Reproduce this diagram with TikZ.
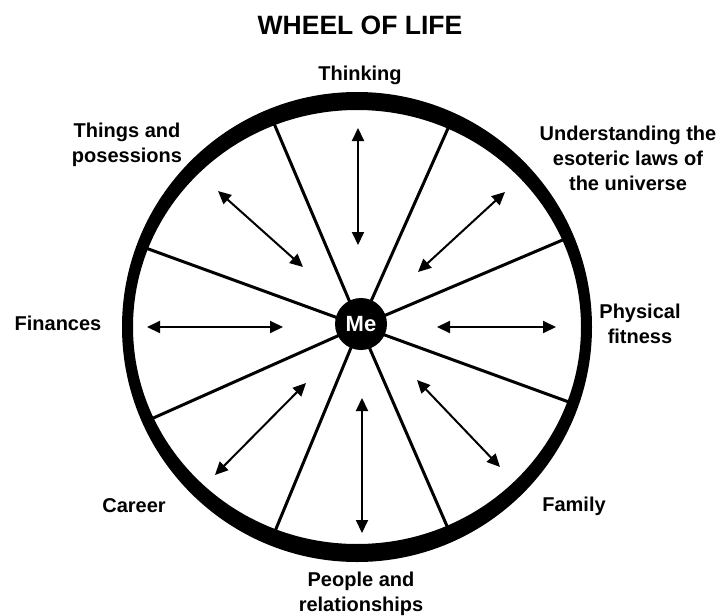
\documentclass[tikz,border=0pt]{standalone}
\usepackage{fontspec}
\setmainfont{Liberation Sans}
\usetikzlibrary{arrows.meta,calc}
\begin{document}
\begin{tikzpicture}[x=1pt,y=1pt,
  lbl/.style={font=\bfseries\fontsize{20}{25}\selectfont, align=center, inner sep=0pt},
  titlestyle/.style={font=\bfseries\fontsize{26.5}{30}\selectfont, inner sep=0pt},
  spoke/.style={line width=3pt},
  dbl/.style={line width=2pt, {Triangle[length=13pt,width=12pt]}-{Triangle[length=13pt,width=12pt]}},
  hub/.style={circle, fill=black, minimum size=52pt, inner sep=0pt, text=white, font=\bfseries\fontsize{22}{22}\selectfont}]
\useasboundingbox (0,0) rectangle (721,-616);
\coordinate (c) at (360,-326);
\coordinate (rc) at (357,-327);
% spokes
\foreach \a [count=\i] in {23,66,113,160,204,247.5,293.5,340}{
  \coordinate (s\i) at ($(c)+(\a:228)$);
}
\foreach \i in {1,...,8}{\draw[spoke] (c) -- (s\i);}
% rim
\fill[even odd rule] (rc) circle[radius=235] (rc) ellipse[x radius=224, y radius=217];
% hub
\node[hub] (me) at (361,-324) {Me};
% arrows
\coordinate (t1) at (358,-128); \coordinate (t2) at (358,-245);
\coordinate (b1) at (362,-398); \coordinate (b2) at (362,-533);
\coordinate (l1) at (147,-327); \coordinate (l2) at (283,-327);
\coordinate (r1) at (437,-327); \coordinate (r2) at (556,-327);
\coordinate (ul1) at (218,-191); \coordinate (ul2) at (303,-267);
\coordinate (ur1) at (505,-192); \coordinate (ur2) at (418,-272);
\coordinate (ll1) at (306,-383); \coordinate (ll2) at (215,-475);
\coordinate (lr1) at (417,-380); \coordinate (lr2) at (500,-467);
\draw[dbl] (t1) -- (t2);
\draw[dbl] (b1) -- (b2);
\draw[dbl] (l1) -- (l2);
\draw[dbl] (r1) -- (r2);
\draw[dbl] (ul1) -- (ul2);
\draw[dbl] (ur1) -- (ur2);
\draw[dbl] (ll1) -- (ll2);
\draw[dbl] (lr1) -- (lr2);
% texts
\node[titlestyle] (title) at (360,-25) {WHEEL OF LIFE};
\node[lbl] (thinking) at (360,-75) {Thinking};
\node[lbl] (things) at (127,-145) {Things and\\posessions};
\node[lbl] (understanding) at (628,-158) {Understanding the\\esoteric laws of\\the universe};
\node[lbl] (finances) at (58,-323) {Finances};
\node[lbl] (physical) at (640,-324) {Physical\\fitness};
\node[lbl] (career) at (134,-506) {Career};
\node[lbl] (family) at (574,-506) {Family};
\node[lbl] (people) at (361,-594) {People and\\relationships};
\end{tikzpicture}
\end{document}
